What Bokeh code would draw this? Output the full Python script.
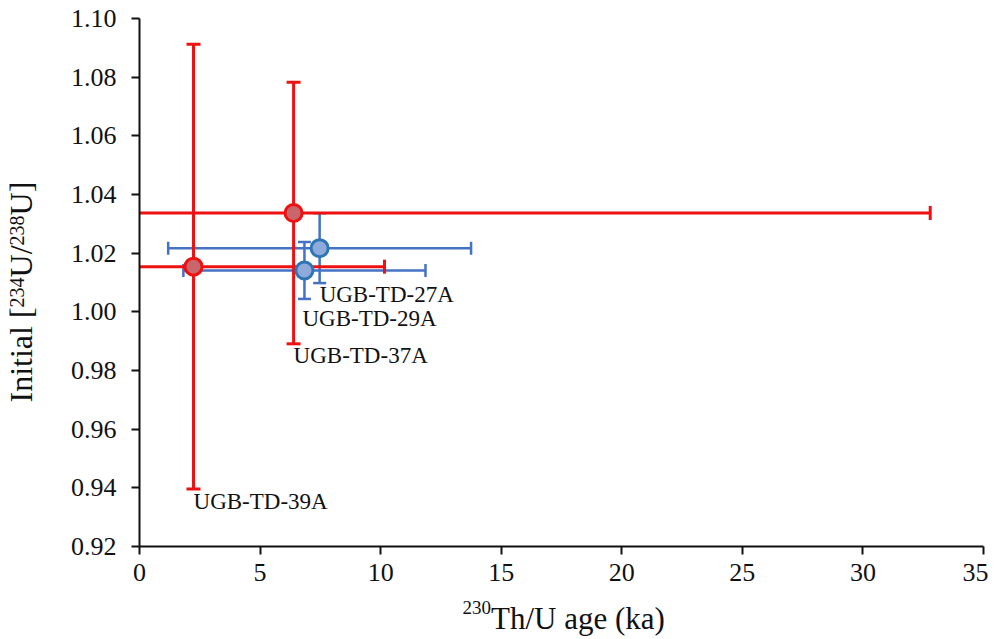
import numpy as np
from bokeh.plotting import figure
from bokeh.models import ColumnDataSource, Range1d, FixedTicker, LinearAxis
from bokeh.core.properties import value
from bokeh.embed import file_html
from bokeh.resources import INLINE

# ---- data ----
samples = ["UGB-TD-37A", "UGB-TD-39A", "UGB-TD-27A", "UGB-TD-29A"]
age = [6.39, 2.24, 7.47, 6.84]          # 230Th/U age (ka)
age_err = [26.4, 7.92, 6.28, 5.02]      # +/- (ka)
u_init = [1.0337, 1.0154, 1.0217, 1.0141]
u_err = [0.0446, 0.0758, 0.0119, 0.0097]
group = ["red", "red", "blue", "blue"]

x_ticks = [0, 5, 10, 15, 20, 25, 30, 35]
y_ticks = [0.92, 0.94, 0.96, 0.98, 1.00, 1.02, 1.04, 1.06, 1.08, 1.10]
X_MIN, X_MAX = 0, 35
Y_MIN, Y_MAX = 0.92, 1.10

FONT = "Liberation Serif"
INK = "#111111"
RED_LINE = "#ee1111"
RED_FILL = "#c8666b"
BLUE_LINE = "#4472c4"
BLUE_EDGE = "#2e75b6"
BLUE_FILL = "#8eaadb"

# ---- geometry: plotting area (0..35, 0.92..1.10) sits at page px
#      x 139..983, y 18..546 inside a 988x639 canvas ----
W, H = 988, 639
PL, PR, PT, PB = 139, 983, 18, 546
xpp = (X_MAX - X_MIN) / (PR - PL)
ypp = (Y_MAX - Y_MIN) / (PB - PT)


def dx(px):
    return X_MIN + (px - PL) * xpp


def dy(py):
    return Y_MAX - (py - PT) * ypp


p = figure(width=W, height=H, output_backend="svg", toolbar_location=None,
           title=None, x_axis_type=None, y_axis_type=None,
           x_range=Range1d(dx(0), dx(W)), y_range=Range1d(dy(H), dy(0)),
           min_border=0, min_border_left=0, min_border_right=0,
           min_border_top=0, min_border_bottom=0)
p.outline_line_color = None

xaxis = LinearAxis(fixed_location=Y_MIN, bounds=(X_MIN, X_MAX),
                   ticker=FixedTicker(ticks=x_ticks))
yaxis = LinearAxis(fixed_location=X_MIN, bounds=(Y_MIN, Y_MAX),
                   ticker=FixedTicker(ticks=y_ticks))
for ax in (xaxis, yaxis):
    ax.axis_line_width = 2
    ax.axis_line_color = INK
    ax.major_tick_line_width = 2
    ax.major_tick_line_color = INK
    ax.major_tick_in = 0
    ax.major_tick_out = 8
    ax.minor_tick_line_color = None
    ax.major_label_text_font = FONT
    ax.major_label_text_font_size = "26px"
    ax.major_label_text_color = INK
xaxis.major_label_overrides = {t: str(t) for t in x_ticks}
yaxis.major_label_overrides = {t: f"{t:.2f}" for t in y_ticks}
xaxis.major_label_standoff = 9
yaxis.major_label_standoff = 15
p.add_layout(xaxis, "below")
p.add_layout(yaxis, "left")


def draw_bars(idx, color, lw, cap):
    xs = [age[i] for i in idx]
    ys = [u_init[i] for i in idx]
    xe = [age_err[i] for i in idx]
    ye = [u_err[i] for i in idx]
    xl = [a - e for a, e in zip(xs, xe)]
    xu = [a + e for a, e in zip(xs, xe)]
    yl = [a - e for a, e in zip(ys, ye)]
    yu = [a + e for a, e in zip(ys, ye)]
    # the bars are cut at the axes (as in the original figure)
    src = ColumnDataSource(dict(
        x=xs, y=ys,
        xl=[max(v, X_MIN) for v in xl], xu=[min(v, X_MAX) for v in xu],
        yl=[max(v, Y_MIN) for v in yl], yu=[min(v, Y_MAX) for v in yu],
    ))
    p.segment(x0="xl", y0="y", x1="xu", y1="y", source=src, line_color=color, line_width=lw)
    p.segment(x0="x", y0="yl", x1="x", y1="yu", source=src, line_color=color, line_width=lw)
    # caps only where the bar is not cut
    caps = dict(cx=[], cy=[], ang=[])
    for i in range(len(xs)):
        for v, lim, isx, low in ((xl[i], X_MIN, True, True), (xu[i], X_MAX, True, False),
                                 (yl[i], Y_MIN, False, True), (yu[i], Y_MAX, False, False)):
            inside = v >= lim if low else v <= lim
            if inside:
                caps["cx"].append(v if isx else xs[i])
                caps["cy"].append(ys[i] if isx else v)
                caps["ang"].append(np.pi / 2 if isx else 0.0)
    p.scatter(x="cx", y="cy", angle="ang", source=ColumnDataSource(caps), marker="dash",
              size=cap, line_color=color, line_width=lw)
    return src


red_idx = [i for i, g in enumerate(group) if g == "red"]
blue_idx = [i for i, g in enumerate(group) if g == "blue"]

blue_src = draw_bars(blue_idx, BLUE_LINE, 2.5, 13)
red_src = draw_bars(red_idx, RED_LINE, 3, 14)

p.scatter(x="x", y="y", source=blue_src, size=17, fill_color=BLUE_FILL,
          line_color=BLUE_EDGE, line_width=3)
p.scatter(x="x", y="y", source=red_src, size=17, fill_color=RED_FILL,
          line_color=RED_LINE, line_width=3)

# sample labels, anchored below each lower error bound
lab_src = ColumnDataSource(dict(
    x=age,
    y=[u - e for u, e in zip(u_init, u_err)],
    text=samples,
    xo=[0, 0, 0, -2],
    yo=[-1, 0, -1, 7],
))
p.text(x="x", y="y", text="text", source=lab_src, x_offset="xo", y_offset="yo",
       text_font=value(FONT), text_font_size="23px", text_color=INK,
       text_align="left", text_baseline="top")


# ---- axis titles with superscripts (Times metrics, page px -> data) ----
BASE_FIX = 0.4   # renderer places the alphabetic baseline ~0.4 em low


def title_text(texts, pxs, pys, sizes, angle=0.0):
    src = ColumnDataSource(dict(x=[dx(v) for v in pxs], y=[dy(v) for v in pys],
                                text=texts, size=[f"{s}px" for s in sizes]))
    p.text(x="x", y="y", text="text", source=src, text_font=value(FONT),
           text_font_size="size", text_color=INK, text_align="left",
           text_baseline="alphabetic", angle=angle)


# x title:  ^230 Th/U age  (ka)
XM, XS = 31, 19
x0, xbase = 462, 630
title_text(["230", "Th/U age  (ka)"], [x0, x0 + 1.5 * XS],
           [xbase - 15 - BASE_FIX * XS, xbase - BASE_FIX * XM], [XS, XM])

# y title (rotated):  Initial [ ^234 U/ ^238 U]
YM, YS = 32, 20
ybase, pos = 33, 402
raise_ = 9
ytexts = ["Initial [", "234", "U/", "238", "U]"]
ysizes = [YM, YS, YM, YS, YM]
yraise = [0, raise_, 0, raise_, 0]
yems = [2.972, 1.5, 1.0, 1.5, 1.055]
pxs, pys = [], []
for s, r, em in zip(ysizes, yraise, yems):
    pxs.append(ybase - r - BASE_FIX * s)
    pys.append(pos)
    pos -= em * s
title_text(ytexts, pxs, pys, ysizes, angle=np.pi / 2)

open("out.html", "w").write(file_html(p, INLINE))
